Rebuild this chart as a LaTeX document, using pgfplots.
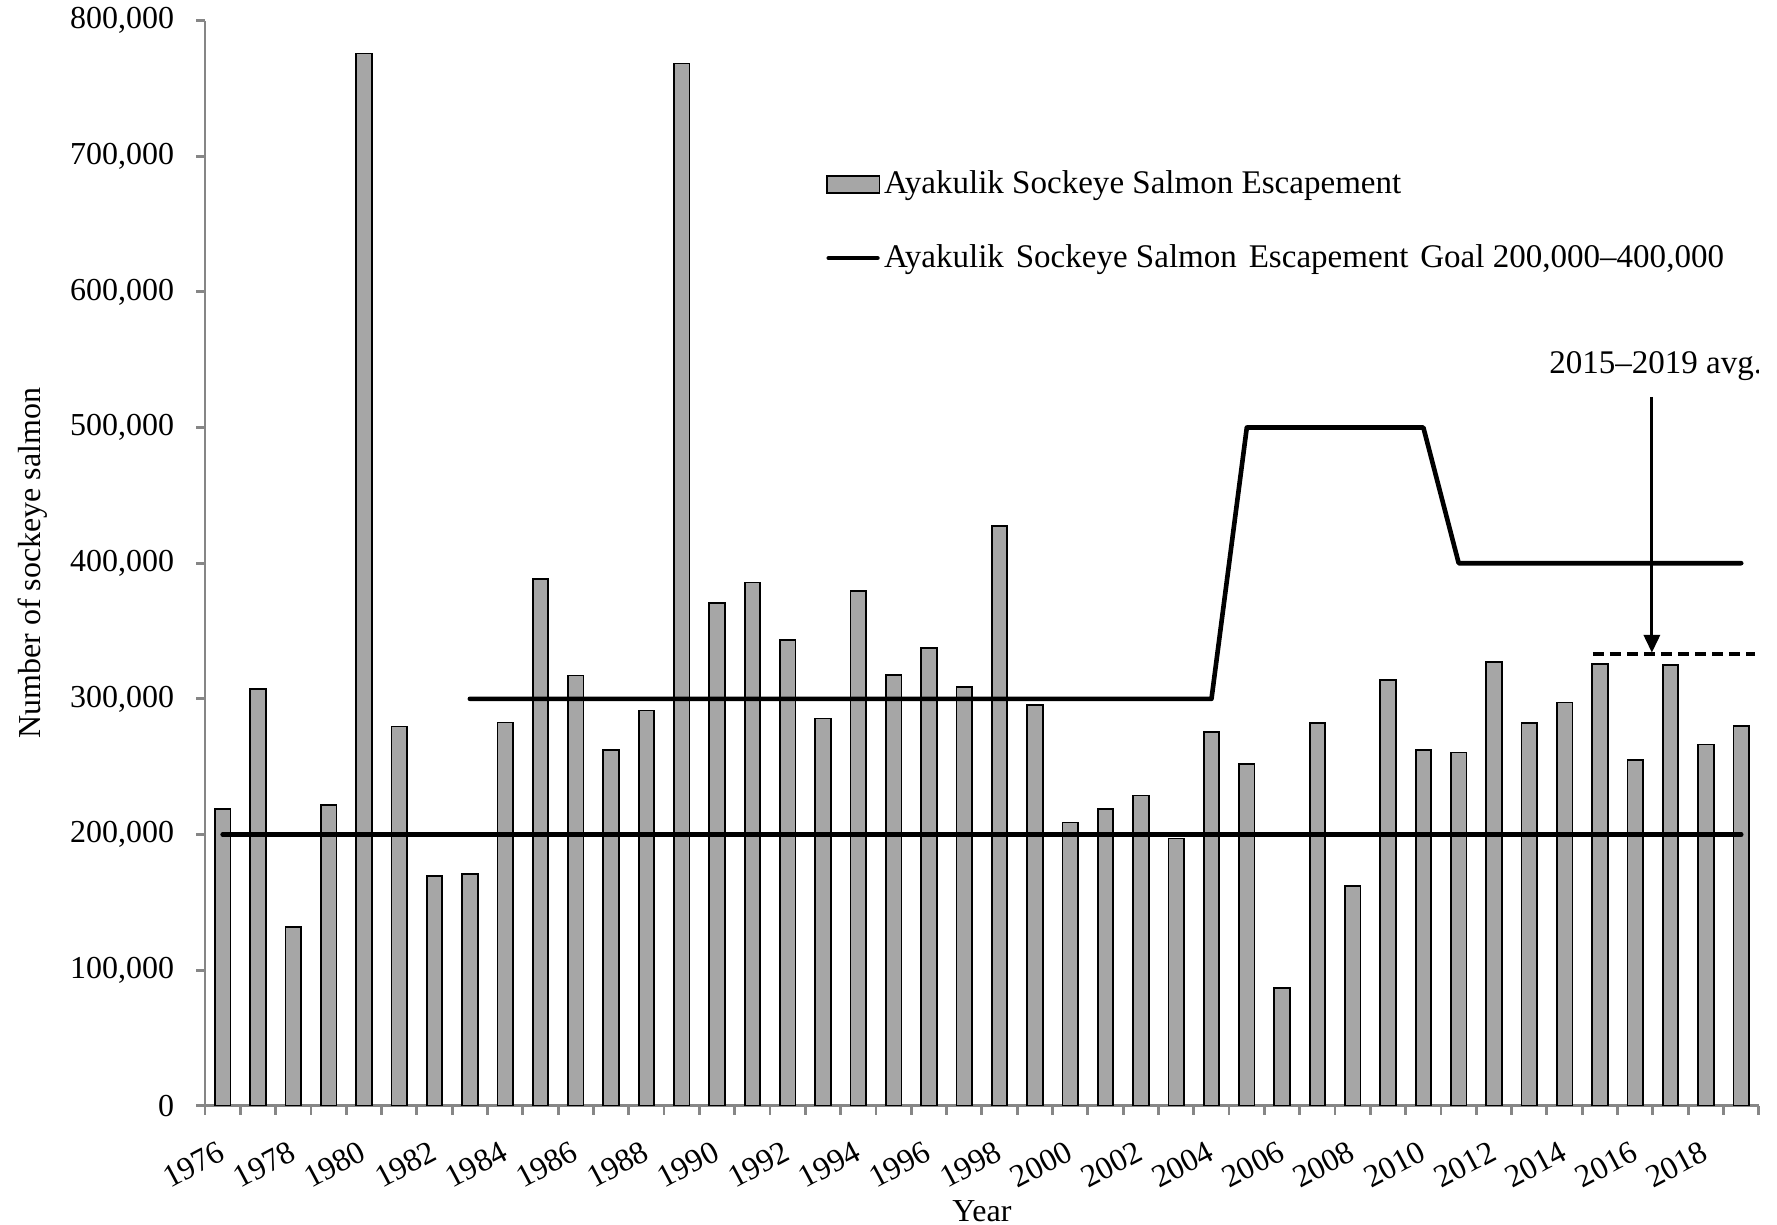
\documentclass[border=0pt]{standalone}
\usepackage{fontspec}
\setmainfont{Liberation Serif}
\usepackage{pgfplots}
\pgfplotsset{compat=1.18}
\usetikzlibrary{arrows.meta}
\definecolor{bargray}{RGB}{166,166,166}
\definecolor{axgray}{RGB}{134,134,134}

\begin{document}
\fontsize{9}{11}\selectfont
\begin{tikzpicture}
\begin{axis}[
    scale only axis,
    width=437.3pt, height=305.4pt,
    xmin=1975.5, xmax=2019.5,
    ymin=0, ymax=800000,
    axis lines*=left,
    axis line style={axgray, line width=0.8pt},
    tick style={axgray, line width=0.8pt},
    tick align=outside,
    major tick length=2.5pt,
    ytick={0,100000,...,800000},
    scaled y ticks=false,
    yticklabel style={xshift=-3pt, inner ysep=1pt, /pgf/number format/.cd, fixed, 1000 sep={,}, assume math mode=true},
    xtick={1975.5,1976.5,...,2019.5},
    xticklabels={},
    extra x ticks={1976,1978,...,2018},
    extra x tick labels={1976,1978,1980,1982,1984,1986,1988,1990,1992,1994,1996,1998,2000,2002,2004,2006,2008,2010,2012,2014,2016,2018},
    extra x tick style={major tick length=0pt,
        xticklabel style={xshift=2.6pt, yshift=-10.8pt, rotate=28, anchor=east}},
    xlabel={Year},
    ylabel={Number of sockeye salmon},
    xlabel style={at={(axis description cs:0.5,-0.097)}, anchor=center, inner sep=0pt},
    ylabel style={at={(axis description cs:-0.111,0.5)}, anchor=center, inner sep=0pt},
    legend style={at={(axis description cs:0.399,0.866)}, anchor=north west,
        draw=none, fill=none, row sep=11pt, inner sep=0pt,
        font=\fontsize{9.3}{11}\selectfont,
        nodes={inner sep=1pt}},
    legend cell align=left,
]

% escapement
\addplot[ybar, bar width=0.44, fill=bargray, draw=black, line width=0.5pt,
    legend image code/.code={\draw[fill=bargray, draw=black, line width=0.5pt] (0pt,-2.4pt) rectangle (14.9pt,2.4pt);}]
coordinates {
    (1976,218700) (1977,307100) (1978,131700) (1979,221600) (1980,775800)
    (1981,279600) (1982,169500) (1983,171000) (1984,282600) (1985,388300)
    (1986,317200) (1987,262200) (1988,291400) (1989,768300) (1990,370800)
    (1991,385800) (1992,343500) (1993,285500) (1994,379500) (1995,317300)
    (1996,337400) (1997,309000) (1998,427600) (1999,295600) (2000,208800)
    (2001,218800) (2002,228800) (2003,197100) (2004,275600) (2005,252200)
    (2006,86800)  (2007,282300) (2008,162000) (2009,314000) (2010,262200)
    (2011,260500) (2012,327300) (2013,282300) (2014,297300) (2015,325700)
    (2016,254700) (2017,324800) (2018,266400) (2019,279700)
};
\addlegendentry{Ayakulik Sockeye Salmon Escapement}

% goal, lower bound
\addplot[black, line width=1.3pt, line cap=round,
    legend image code/.code={\draw[line width=1.3pt, line cap=round] (0.6pt,0pt) -- (14.3pt,0pt);}]
coordinates {(1976,200000) (2019,200000)};
\addlegendentry{Ayakulik\hspace{1pt} Sockeye Salmon\hspace{1pt} Escapement\hspace{1pt} Goal 200,000--400,000}

% goal, upper bound
\addplot[black, line width=1.3pt, line cap=round, line join=round, forget plot]
coordinates {(1983,300000) (2004,300000) (2005,500000) (2010,500000) (2011,400000) (2019,400000)};

% 2015-2019 average
\addplot[black, line width=1pt, dash pattern=on 3pt off 1.8pt, forget plot]
coordinates {(2014.8,333000) (2019.4,333000)};

\addplot[black, line width=0.9pt, forget plot, -{Triangle[length=5pt,width=4.5pt]}]
coordinates {(2016.47,522600) (2016.47,334000)};

\node[anchor=base, font=\fontsize{9.3}{11}\selectfont] at (axis cs:2016.58,539600) {2015--2019 avg.};
\end{axis}
\path ([shift={(-57.7pt,-33.5pt)}]current axis.south west)
    rectangle ([shift={(5.1pt,5.8pt)}]current axis.north east);
\end{tikzpicture}
\end{document}
